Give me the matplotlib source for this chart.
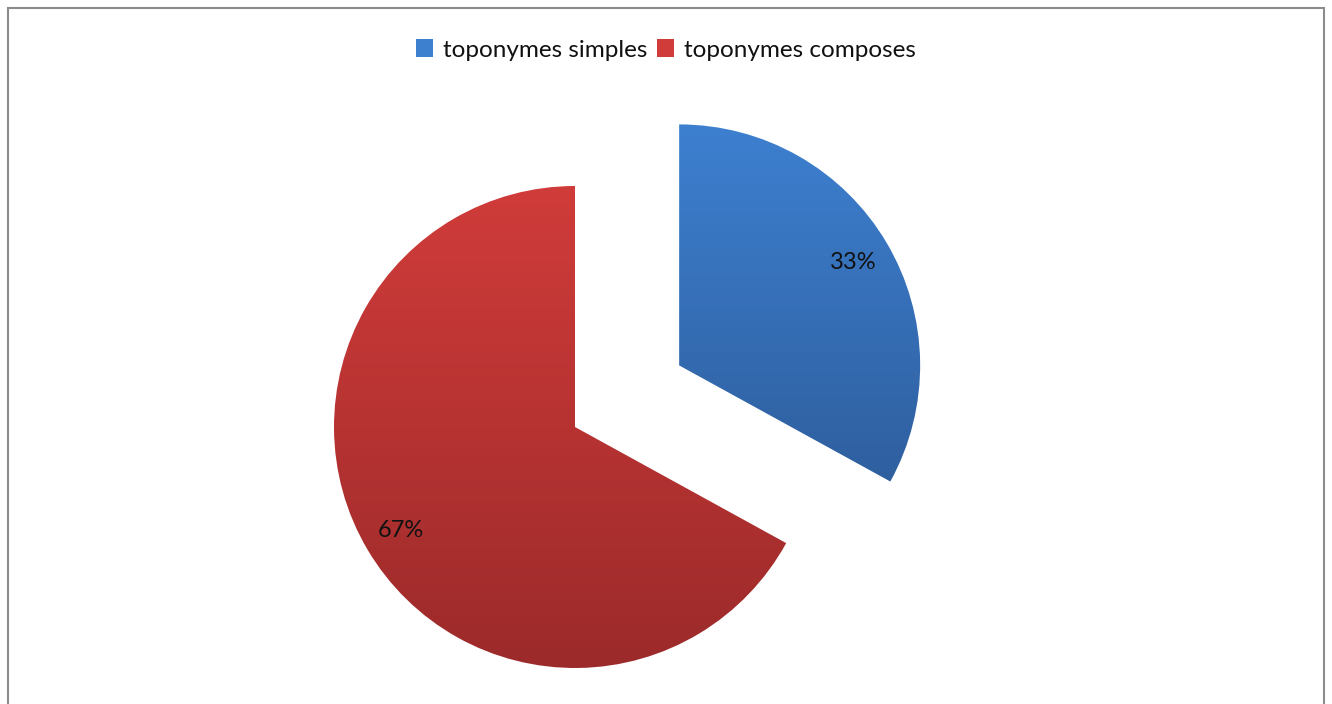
import numpy as np
import matplotlib.pyplot as plt
from matplotlib.patches import Patch, Rectangle
from matplotlib.colors import LinearSegmentedColormap

# --- data ---
labels = ['toponymes simples', 'toponymes composes']
values = [33, 67]

# top / bottom shades of each slice
top_colors = ['#3d80d0', '#d03c3a']
bottom_colors = ['#2f5f9f', '#9c2a2a']

W, H = 1332, 704
fig = plt.figure(figsize=(W / 100, H / 100), dpi=100)
ax = fig.add_axes([0, 0, 1, 1])

plt.rcParams['font.family'] = ['Lato', 'DejaVu Sans']

radius = 241
center = (575, 277)
wedges, texts, autotexts = ax.pie(
    values, explode=[121, 0], center=center, radius=radius,
    startangle=90, counterclock=False, autopct='%1.0f%%',
    pctdistance=0.84, frame=True,
    textprops={'fontsize': 17, 'color': '#111111', 'family': ['Lato']},
)
ax.set_xlim(0, W)
ax.set_ylim(0, H)
ax.set_aspect('equal')
ax.axis('off')

# vertical gradient fill clipped to each wedge
for w, c0, c1 in zip(wedges, top_colors, bottom_colors):
    w.set_facecolor('none')
    w.set_edgecolor('none')
    cmap = LinearSegmentedColormap.from_list('g', [c1, c0])
    bb = w.get_path().get_extents(w.get_patch_transform())
    grad = np.linspace(0, 1, 256).reshape(-1, 1)
    im = ax.imshow(grad, cmap=cmap, aspect='auto', origin='lower',
                   extent=[bb.x0, bb.x1, bb.y0, bb.y1], zorder=1)
    im.set_clip_path(w)
for t in autotexts:
    t.set_zorder(3)

# legend along the top
handles = [Patch(facecolor=c, edgecolor='none') for c in top_colors]
fig.legend(handles, labels, loc='center', bbox_to_anchor=(0.5, 1 - 50 / H),
           ncol=2, frameon=False, fontsize=17.5, handlelength=0.7,
           handleheight=0.7, handletextpad=0.4, columnspacing=0.4,
           labelcolor='#111111')

# chart border
fig.patches.append(Rectangle((8 / W, -0.01), (W - 16) / W, 1 - 8 / H + 0.01,
                             transform=fig.transFigure, fill=False,
                             edgecolor='#8c8c8c', linewidth=1.5))

fig.savefig('out.png', dpi=100)
